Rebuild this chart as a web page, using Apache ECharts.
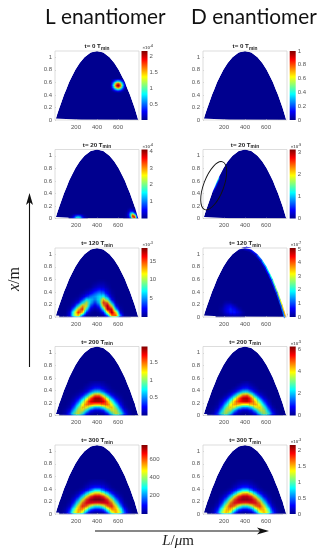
<!DOCTYPE html>
<html><head><meta charset="utf-8">
<style>html,body{margin:0;padding:0;background:#fff}#c{width:323px;height:550px;filter:blur(0.45px)}</style>
<script src="https://cdn.jsdelivr.net/npm/echarts@6/dist/echarts.min.js"></script>
</head><body><div id="c"></div>
<script>
const xTicks=200, yTicks=0.2;
const domeX=[10,25,43,60,85,110,134,160,194,235,281,340,400,460,519,565,606,640,666,690,715,740,757,775,793];
const domeY=[.03,.11,.2,.28,.4,.5,.6,.69,.8,.91,1,1.075,1.1,1.075,1,.91,.8,.69,.6,.5,.4,.28,.2,.1,0];
const domeBottomX=[250,10], domeBottomY=[.002,.022];
const jetStops=[[0,'#00008f'],[.125,'#0000ff'],[.375,'#00ffff'],[.625,'#ffff00'],[.875,'#ff0000'],[1,'#800000']];
const rowTitles=['t= 0 T','t= 20 T','t= 120 T','t= 200 T','t= 300 T'];
const scaleTopL=[2.16,4.1,18.5,1.95,758], scaleTopD=[1,3.13,5.07,6.27,2.16];
const tickStepL=[.5,1,5,.5,200], tickStepD=[.2,1,1,2,.5];
const multL=['-4','-4','-3','',''], multD=['','-9','-7','-5','-3'];
const gridX=[20,60,100,140,180,220,260,300,340,380,420,460,500,540,580,620,660,700,740,780];
const ringY=[.525,.475,.425,.375,.325,.275,.225,.175,.125,.075,.025];
const L120Y=[.575,.525,.475,.425,.375,.325,.275,.225,.175,.125,.075,.025];
// values below: percent of the panel's colour-scale top
const L0X=[540,560,580,600,620,640,660], L0Y=[.64,.61,.58,.55,.52,.49,.46];
const L0=[[1,5,12,16,12,5,1],[5,20,36,45,36,20,5],[12,36,68,82,68,36,12],[16,45,82,100,82,45,16],[12,36,68,82,68,36,12],[5,20,36,45,36,20,5],[1,5,12,16,12,5,1]];
const L20aX=[140,160,180,200,220,240,260,280,300], L20aY=[.0625,.0375,.0125];
const L20a=[[0,1,3,6,7,6,3,1,0],[1,3,10,22,26,22,10,3,1],[2,6,18,35,42,35,18,6,2]];
const L20bX=[660,680,700,720,740,760,780], L20bY=[.1625,.1375,.1125,.0875,.0625,.0375,.0125];
const L20b=[[0,0,1,3,1,0,0],[0,0,3,8,5,1,0],[0,1,6,16,14,4,0],[0,2,10,30,36,14,2],[0,3,14,40,70,40,6],[0,3,12,38,92,75,12],[0,2,8,24,72,88,18]];
const D20X=[90,100,110,120,130,140,150,160], D20Y=[.67,.64,.61,.58,.55,.52,.49,.46,.43];
const D20=[[0,0,0,0,0,0,35,8],[0,0,0,0,0,55,40,3],[0,0,0,0,55,45,10,0],[0,0,0,45,42,14,0,0],[0,0,38,36,18,3,0,0],[0,0,32,25,5,0,0,0],[0,22,22,7,0,0,0,0],[14,14,7,0,0,0,0,0],[8,6,2,0,0,0,0,0]];
const L120=[
[0,0,0,0,0,0,0,0,0,0,1,1,0,0,0,0,0,0,0,0],
[0,0,0,0,0,0,0,0,0,2,4,4,1,0,0,0,0,0,0,0],
[0,0,0,0,0,0,0,0,1,5,8,7,3,0,0,0,0,0,0,0],
[0,0,0,0,0,0,0,2,5,11,16,14,6,1,0,0,0,0,0,0],
[0,0,0,0,0,0,2,6,12,20,26,24,11,2,0,0,0,0,0,0],
[0,0,0,0,0,1,6,16,24,28,35,40,22,5,0,0,0,0,0,0],
[0,0,0,0,1,4,18,38,34,27,38,68,44,12,1,0,0,0,0,0],
[0,0,0,0,4,14,38,58,32,18,34,82,75,32,4,0,0,0,0,0],
[0,0,0,1,10,38,70,60,20,9,20,70,94,60,12,1,0,0,0,0],
[0,0,0,3,28,66,84,40,8,3,7,40,94,88,30,3,0,0,0,0],
[0,0,0,8,48,85,70,16,2,0,2,14,62,98,65,10,0,0,0,0],
[0,0,1,10,50,70,26,3,0,0,0,3,24,78,80,25,2,0,0,0]];
const D120blobX=[140,180,220,260,300,340,380], D120blobY=[.275,.225,.175,.125,.075,.025];
const D120blob=[[0,0,0,0,0,0,0],[0,0,3,3,0,0,0],[0,1,8,12,5,0,0],[0,3,10,16,12,4,0],[0,2,8,14,14,8,2],[0,0,3,5,6,4,1]];
const D120edgeX=[340,400,460,519,565,606,640,666,690,715,740,757,775,790];
const D120edgeY=[1.075,1.1,1.075,1,.91,.8,.69,.6,.5,.4,.28,.2,.1,.01];
const D120edgeV=[4,11,14,22,30,36,40,44,50,54,60,66,70,62];
const L200=[
[0,0,0,0,0,0,0,0,2,3,3,2,0,0,0,0,0,0,0,0],
[0,0,0,0,0,0,0,2,5,8,8,5,2,0,0,0,0,0,0,0],
[0,0,0,0,0,0,1,5,11,17,17,11,5,1,0,0,0,0,0,0],
[0,0,0,0,0,1,4,11,24,36,36,24,11,4,1,0,0,0,0,0],
[0,0,0,0,1,4,12,28,52,74,74,52,28,12,4,1,0,0,0,0],
[0,0,0,0,3,10,26,52,80,97,97,80,52,26,10,3,0,0,0,0],
[0,0,0,1,6,20,45,72,92,97,97,92,72,45,20,6,1,0,0,0],
[0,0,0,2,12,33,60,77,78,72,72,78,77,60,33,12,2,0,0,0],
[0,0,1,5,22,48,68,62,42,30,30,42,62,68,48,22,5,1,0,0],
[0,0,3,12,35,60,60,38,16,9,9,16,38,60,60,35,12,3,0,0],
[0,0,5,20,48,62,42,16,4,2,2,4,16,42,62,48,20,5,0,0]];
const D200=[
[0,0,0,0,0,0,0,0,0,2,3,1,0,0,0,0,0,0,0,0],
[0,0,0,0,0,0,0,0,3,7,8,4,1,0,0,0,0,0,0,0],
[0,0,0,0,0,0,0,3,9,16,17,10,4,0,0,0,0,0,0,0],
[0,0,0,0,0,0,3,10,23,37,38,24,10,3,1,0,0,0,0,0],
[0,0,0,0,0,3,11,28,52,72,76,54,26,10,3,0,0,0,0,0],
[0,0,0,0,2,9,26,52,78,94,96,78,50,24,8,2,0,0,0,0],
[0,0,0,1,6,20,45,70,84,92,94,82,66,42,18,5,0,0,0,0],
[0,0,0,2,12,33,60,72,70,62,62,70,72,58,30,10,1,0,0,0],
[0,0,1,5,22,48,66,56,36,26,26,36,58,66,46,20,4,0,0,0],
[0,0,2,12,35,60,54,30,12,7,7,14,32,56,58,32,10,2,0,0],
[0,0,5,20,46,56,36,12,3,1,1,4,14,38,56,44,18,4,0,0]];
const L300=[
[0,0,0,0,0,0,0,0,2,3,3,2,0,0,0,0,0,0,0,0],
[0,0,0,0,0,0,0,2,5,6,6,5,2,0,0,0,0,0,0,0],
[0,0,0,0,0,0,1,5,10,14,14,10,5,1,0,0,0,0,0,0],
[0,0,0,0,0,1,5,13,24,38,38,24,13,5,1,0,0,0,0,0],
[0,0,0,0,1,5,16,35,55,68,68,55,35,16,5,1,0,0,0,0],
[0,0,0,0,4,14,35,62,82,92,92,82,62,35,14,4,0,0,0,0],
[0,0,0,1,10,28,58,82,95,99,99,95,82,58,28,10,1,0,0,0],
[0,0,0,3,18,45,75,88,88,85,85,88,88,75,45,18,3,0,0,0],
[0,0,1,7,30,62,84,78,55,42,42,55,78,84,62,30,7,1,0,0],
[0,0,3,15,45,72,75,50,22,14,14,22,50,75,72,45,15,3,0,0],
[0,0,5,22,55,72,58,24,6,3,3,6,24,58,72,55,22,5,0,0]];
const D300=[
[0,0,0,0,0,0,0,0,2,3,3,2,0,0,0,0,0,0,0,0],
[0,0,0,0,0,0,0,2,5,7,7,5,2,0,0,0,0,0,0,0],
[0,0,0,0,0,0,1,5,10,15,15,10,5,1,0,0,0,0,0,0],
[0,0,0,0,0,1,5,13,25,38,38,25,13,5,1,0,0,0,0,0],
[0,0,0,0,1,5,15,33,56,70,72,56,33,15,5,1,0,0,0,0],
[0,0,0,0,4,13,34,62,82,92,92,82,60,33,13,4,0,0,0,0],
[0,0,0,1,9,27,56,80,92,96,96,92,80,56,27,9,1,0,0,0],
[0,0,0,3,17,44,74,86,86,82,82,86,86,74,44,17,3,0,0,0],
[0,0,1,7,29,62,82,76,54,40,40,54,76,82,62,29,7,1,0,0],
[0,0,3,14,44,70,72,48,22,13,13,22,48,72,70,44,14,3,0,0],
[0,0,5,22,54,70,56,23,6,3,3,6,23,56,70,54,22,5,0,0]];

const panelCells=[
 [{xs:L0X,ys:L0Y,m:L0}],[],
 [{xs:L20aX,ys:L20aY,m:L20a},{xs:L20bX,ys:L20bY,m:L20b}],[{xs:D20X,ys:D20Y,m:D20}],
 [{xs:gridX,ys:L120Y,m:L120}],[{xs:D120blobX,ys:D120blobY,m:D120blob}],
 [{xs:gridX,ys:ringY,m:L200}],[{xs:gridX,ys:ringY,m:D200}],
 [{xs:gridX,ys:ringY,m:L300}],[{xs:gridX,ys:ringY,m:D300}]];

const rowTop=[51,149.5,248,346.5,445], plotH=69;
const colLeft=[55,203], plotW=84, barLeft=[141.5,289.7], barW=6;
const G=echarts.graphic;
function hex(c){return [parseInt(c.slice(1,3),16),parseInt(c.slice(3,5),16),parseInt(c.slice(5,7),16)];}
function jet(t){t=Math.max(0,Math.min(1,t));for(let i=1;i<jetStops.length;i++){if(t<=jetStops[i][0]){const a=jetStops[i-1],b=jetStops[i],f=(t-a[0])/(b[0]-a[0]),p=hex(a[1]),q=hex(b[1]);return 'rgb('+p.map((v,k)=>Math.round(v+(q[k]-v)*f)).join(',')+')';}}return jetStops[5][1];}

const grid=[],xAxis=[],yAxis=[],series=[],title=[];
const sans='"Liberation Sans",Arial,sans-serif';
const SUB_ROWS=3, SUB_STOPS=[0,.25,.5,.75,1];
function addPanel(r,c){
 const idx=r*2+c,g=grid.length,top=(c?scaleTopD:scaleTopL)[r];
 grid.push({left:colLeft[c],top:rowTop[r],width:plotW,height:plotH});
 xAxis.push({gridIndex:g,type:'value',min:0,max:800,interval:xTicks,z:6,axisLine:{show:false},axisTick:{inside:true,length:1,lineStyle:{color:'#bbb',width:.5}},splitLine:{show:false},
  axisLabel:{showMinLabel:false,showMaxLabel:false,fontSize:6,color:'#555',margin:4,fontFamily:sans}});
 yAxis.push({gridIndex:g,type:'value',min:0,max:1.1,interval:yTicks,z:6,axisLine:{show:false},axisTick:{inside:true,length:1,lineStyle:{color:'#bbb',width:.5}},splitLine:{show:false},
  axisLabel:{showMaxLabel:false,fontSize:6,color:'#555',margin:3,fontFamily:sans}});
 series.push({type:'custom',xAxisIndex:g,yAxisIndex:g,z:2,silent:true,clip:false,data:[[0,0]],encode:{x:0,y:1},renderItem:(p,api)=>{
  const pts=domeX.map((x,i)=>api.coord([x,domeY[i]])).concat(domeBottomX.map((x,i)=>api.coord([x,domeBottomY[i]])));
  return {type:'polygon',shape:{points:pts},style:{fill:jetStops[0][1]}};}});
 panelCells[idx].forEach(set=>{
  const dx=Math.abs(set.xs[1]-set.xs[0]),dy=Math.abs(set.ys[1]-set.ys[0]),rows=[];
  const at=(a,b)=>(set.m[a]&&set.m[a][b]!==undefined)?set.m[a][b]:0;
  set.m.forEach((row,j)=>row.forEach((v,i)=>{
   const nb=[at(j-1,i-1),at(j-1,i),at(j-1,i+1),at(j,i-1),v,at(j,i+1),at(j+1,i-1),at(j+1,i),at(j+1,i+1)];
   if(nb.some(n=>n>0)) rows.push([set.xs[i],set.ys[j],v,dx,dy].concat(nb));}));
  series.push({type:'custom',xAxisIndex:g,yAxisIndex:g,z:3,silent:true,clip:false,progressive:0,data:rows,encode:{x:0,y:1},renderItem:(p,api)=>{
   const x=api.value(0),y=api.value(1),ddx=api.value(3),ddy=api.value(4);
   const a=api.coord([x-ddx/2,y+ddy/2]),b=api.coord([x+ddx/2,y-ddy/2]);
   const n=k=>api.value(5+k);
   const at2=(su,sv)=>{const i=su<0?-1:1,j=sv<0?-1:1,A=Math.abs(su),B=Math.abs(sv);
     return (1-A)*(1-B)*n(4)+A*(1-B)*n(4+i)+(1-A)*B*n(4+3*j)+A*B*n(4+3*j+i);};
   const h=(b[1]-a[1])/SUB_ROWS, kids=[];
   for(let s=0;s<SUB_ROWS;s++){
    const sv=(s+.5)/SUB_ROWS-.5;
    kids.push({type:'rect',shape:{x:a[0],y:a[1]+s*h,width:b[0]-a[0]+.2,height:h+.2},
     style:{fill:new G.LinearGradient(0,0,1,0,SUB_STOPS.map(o=>({offset:o,color:jet(at2(o-.5,sv)/100)})))}});
   }
   return {type:'group',children:kids};}});
 });
 if(idx===5){
  const rows=D120edgeX.slice(0,-1).map((x,i)=>[x,D120edgeY[i],D120edgeV[i],D120edgeX[i+1],D120edgeY[i+1]]);
  const strip=(api,w,h,f)=>{const x=api.value(0),y=api.value(1),x2=api.value(3),y2=api.value(4);
    return {type:'polygon',shape:{points:[api.coord([x+15,y+.02]),api.coord([x2+15,y2+.02]),api.coord([x2-w,y2-h]),api.coord([x-w,y-h])]},style:{fill:jet(api.value(2)*f/100)}};};
  series.push({type:'custom',xAxisIndex:g,yAxisIndex:g,z:3,silent:true,clip:false,data:rows,encode:{x:0,y:1},renderItem:(p,api)=>({type:'group',children:[strip(api,18,.035,.35),strip(api,8,.016,1)]})});
 }
 series.push({type:'custom',xAxisIndex:g,yAxisIndex:g,z:4,silent:true,clip:false,data:[[0,0]],encode:{x:0,y:1},renderItem:(p,api)=>{
  const pts=[api.coord([0,0])].concat(domeX.map((x,i)=>api.coord([x,domeY[i]]))).concat([api.coord([800,0]),api.coord([800,1.1]),api.coord([0,1.1])]);
  const a=api.coord([0,1.1]),b=api.coord([800,0]);
  return {type:'group',children:[
   {type:'polygon',shape:{points:pts},style:{fill:'#fff'}},
   {type:'rect',shape:{x:a[0],y:a[1],width:b[0]-a[0],height:b[1]-a[1]},style:{fill:'none',stroke:'#cfcfcf',lineWidth:.7}}]};}});
 // colour bar
 const gb=grid.length,step=(c?tickStepD:tickStepL)[r];
 grid.push({left:barLeft[c],top:rowTop[r],width:barW,height:plotH});
 xAxis.push({gridIndex:gb,type:'value',min:0,max:1,show:false});
 yAxis.push({gridIndex:gb,type:'value',position:'right',min:0,max:top,interval:step,z:6,axisLine:{show:false},axisTick:{show:false},splitLine:{show:false},
  axisLabel:{showMinLabel:!!c,showMaxLabel:idx===1,fontSize:6,color:'#555',margin:2,fontFamily:sans}});
 series.push({type:'custom',xAxisIndex:gb,yAxisIndex:gb,z:3,silent:true,clip:false,data:[[0,0,1,top]],encode:{x:[0,2],y:[1,3]},renderItem:(p,api)=>{
  const a=api.coord([api.value(0),api.value(3)]),b=api.coord([api.value(2),api.value(1)]);
  return {type:'rect',shape:{x:a[0],y:a[1],width:b[0]-a[0],height:b[1]-a[1]},style:{fill:new G.LinearGradient(0,0,0,1,jetStops.map(s=>({offset:1-s[0],color:s[1]})).reverse())}};}});
 // titles
 title.push({text:'{a|'+rowTitles[r]+'}{b|min}',left:colLeft[c]+plotW/2,top:rowTop[r]-9,textAlign:'center',padding:0,
  textStyle:{rich:{a:{fontSize:6.2,fontWeight:'bold',color:'#222',fontFamily:sans},b:{fontSize:4.8,fontWeight:'bold',color:'#222',fontFamily:sans,padding:[4,0,0,0]}}}});
 const mu=(c?multD:multL)[r];
 if(mu) title.push({text:'{a|×10}{b|'+mu+'}',left:barLeft[c]+1,top:rowTop[r]-6,padding:0,
  textStyle:{rich:{a:{fontSize:4.4,color:'#666',fontFamily:sans},b:{fontSize:3.4,color:'#666',fontFamily:sans,padding:[0,0,3,0]}}}});
}
for(let r=0;r<5;r++)for(let c=0;c<2;c++)addPanel(r,c);

const big={fontFamily:'Lato,"Open Sans",sans-serif',fontSize:20.8,fill:'#111'};
const graphic=[
 {type:'text',left:45,top:7,style:Object.assign({text:'L enantiomer'},big)},
 {type:'text',left:191,top:7,style:Object.assign({text:'D enantiomer'},big)},
 {type:'line',shape:{x1:29.5,y1:367,x2:29.5,y2:200},style:{stroke:'#111',lineWidth:1.1}},
 {type:'polygon',shape:{points:[[29.5,193],[33,205],[29.5,202],[26,205]]},style:{fill:'#111'}},
 {type:'line',shape:{x1:95,y1:531,x2:262,y2:531},style:{stroke:'#111',lineWidth:1.1}},
 {type:'polygon',shape:{points:[[269,531],[257,527.5],[260,531],[257,534.5]]},style:{fill:'#111'}},
 {type:'ellipse',shape:{cx:0,cy:0,rx:10,ry:25.5},x:213.7,y:185.7,rotation:-0.36,style:{fill:'none',stroke:'#111',lineWidth:.9},z:20},
 {type:'text',x:15,y:279,rotation:Math.PI/2,style:{text:'{i|x}{r|/m}',align:'center',verticalAlign:'middle',rich:{i:{fontFamily:'"Liberation Serif"',fontStyle:'italic',fontSize:16,fill:'#222'},r:{fontFamily:'"Liberation Serif"',fontSize:16,fill:'#222'}}}},
 {type:'text',x:178,y:541,style:{text:'{i|L}{r|/}{i|μ}{r|m}',align:'center',verticalAlign:'middle',rich:{i:{fontFamily:'"Liberation Serif"',fontStyle:'italic',fontSize:15,fill:'#222'},r:{fontFamily:'"Liberation Serif"',fontSize:15,fill:'#222'}}}}
];
const chart=echarts.init(document.getElementById('c'),null,{renderer:'canvas'});
chart.setOption({animation:false,backgroundColor:'#fff',grid,xAxis,yAxis,series,title,graphic});
</script></body></html>
